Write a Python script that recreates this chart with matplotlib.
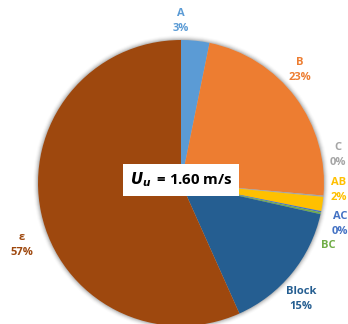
import matplotlib
matplotlib.use("Agg")
import matplotlib.pyplot as plt
from matplotlib.patches import Circle

categories = ["A", "B", "C", "AB", "AC", "BC", "Block", "ε"]
values = [3.2, 23.2, 0.15, 1.6, 0.15, 0.2, 14.8, 56.7]
label_pct = ["3%", "23%", "0%", "2%", "0%", "0%", "15%", "57%"]
colors = ["#5B9BD5", "#ED7D31", "#A5A5A5", "#FFC000", "#4472C4", "#70AD47", "#255E91", "#9E480E"]

# layout (pixel coordinates, origin top-left)
W, H = 348, 324
center = (181, 183)
radius = 143
label_pos = {
    "A": (181, 21), "B": (300, 70), "C": (338, 155), "AB": (339, 190),
    "AC": (340, 224), "BC": (328, 246), "Block": (301, 299), "ε": (22, 245),
}

plt.rcParams["font.family"] = ["Open Sans", "DejaVu Sans"]
fig = plt.figure(figsize=(W / 100, H / 100), dpi=100)
ax = fig.add_axes([0, 0, 1, 1])

# soft shadow behind the pie
cx, cy = center[0], H - center[1]
for i, a in enumerate([0.10, 0.07, 0.05, 0.03, 0.015]):
    ax.add_patch(Circle((cx, cy), radius + 1 + i, facecolor="black", alpha=a,
                        edgecolor="none", zorder=0))

wedges, _ = ax.pie(values, colors=colors, startangle=90, counterclock=False,
                   center=(cx, cy), radius=radius,
                   wedgeprops=dict(linewidth=0, zorder=1), frame=True)
ax.set_xlim(0, W)
ax.set_ylim(0, H)
ax.set_aspect("equal")
ax.axis("off")

for cat, pct, col in zip(categories, label_pct, colors):
    x, y = label_pos[cat]
    txt = cat if cat == "BC" else f"{cat}\n{pct}"
    ax.text(x, H - y, txt, color=col, fontsize=8, fontweight="bold",
            ha="center", va="center", linespacing=1.45, zorder=5)

ax.text(181, H - 180, r"$\mathbfit{U}_{\mathbfit{u}}\,$" + " = 1.60 m/s", fontsize=10.8,
        fontweight="bold", ha="center", va="center", color="black", zorder=5,
        bbox=dict(boxstyle="square,pad=0.45", facecolor="white", edgecolor="none"))

fig.savefig("out.png", dpi=100)
